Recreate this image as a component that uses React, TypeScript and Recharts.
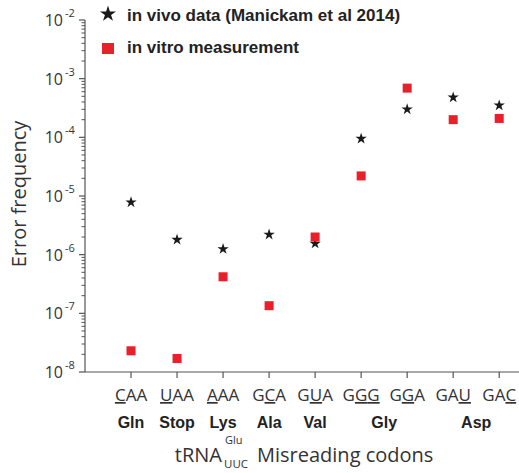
import { ScatterChart, Scatter, XAxis, YAxis, Symbols } from "recharts";

// misreading codons, underlined position = mismatched base
const codons = ["CAA", "UAA", "AAA", "GCA", "GUA", "GGG", "GGA", "GAU", "GAC"];
const underlined = [[0], [0], [0], [1], [1], [1, 2], [1], [2], [2]];
const aminoAcids = ["Gln", "Stop", "Lys", "Ala", "Val", "Gly", "Gly", "Asp", "Asp"];

const inVivo = [7.8e-6, 1.8e-6, 1.25e-6, 2.2e-6, 1.55e-6, 9.5e-5, 3.0e-4, 4.8e-4, 3.5e-4];
const inVitro = [2.3e-8, 1.7e-8, 4.2e-7, 1.35e-7, 2.0e-6, 2.2e-5, 6.9e-4, 2.0e-4, 2.1e-4];

const decadeExps = [-8, -7, -6, -5, -4, -3, -2];
const minorSteps = [2, 3, 4, 5, 6, 7, 8, 9];
const codonTicks = [1, 2, 3, 4, 5, 6, 6.5, 7, 8, 8.5, 9];

const RED = "#e8202a";
const AXIS = "#555";
const SANS = "'Open Sans', sans-serif";
const BOLD = "'Liberation Sans', Arial, sans-serif";

const yTicks = [
  ...decadeExps.map((e) => Math.pow(10, e)),
  ...decadeExps.slice(0, -1).flatMap((e) => minorSteps.map((m) => m * Math.pow(10, e))),
].sort((a, b) => a - b);

const vivoData = codons.map((c, i) => ({ x: i + 1, y: inVivo[i], codon: c }));
const vitroData = codons.map((c, i) => ({ x: i + 1, y: inVitro[i], codon: c }));

const YTick = ({ x, y, payload }: any) => {
  const v = payload.value;
  const exp = Math.round(Math.log10(v));
  const isMajor = Math.abs(v - Math.pow(10, exp)) < v * 1e-6;
  if (!isMajor) {
    return <line x1={x - 3.5} x2={x} y1={y} y2={y} stroke={AXIS} strokeWidth={1} />;
  }
  return (
    <g>
      <line x1={x - 6} x2={x} y1={y} y2={y} stroke={AXIS} strokeWidth={1.2} />
      <text x={x - 22} y={y + 6} textAnchor="end" fontSize={16} fontFamily={SANS} fill="#333">10</text>
      <text x={x - 20} y={y - 3} textAnchor="start" fontSize={11} fontFamily={SANS} fill="#333">{`-${Math.abs(exp)}`}</text>
    </g>
  );
};

const XTick = ({ x, y, payload }: any) => {
  const v = payload.value;
  const isInt = Number.isInteger(v);
  const idx = Math.floor(v) - 1;
  const aa = aminoAcids[idx];
  const shared = aminoAcids[idx - 1] === aa || aminoAcids[idx + 1] === aa;
  const aaLabel = (
    <text x={x} y={y + 56} textAnchor="middle" fontSize={16} fontWeight="bold" fontFamily={BOLD} fill="#222">{aa}</text>
  );
  if (!isInt) return aaLabel;
  return (
    <g>
      <line x1={x} x2={x} y1={y} y2={y + 6} stroke={AXIS} strokeWidth={1.2} />
      <text x={x} y={y + 29} textAnchor="middle" fontSize={17} fontFamily={SANS} fill="#333">
        {codons[idx].split("").map((ch, i) => (
          <tspan key={i} style={underlined[idx].includes(i) ? { textDecoration: "underline" } : undefined}>{ch}</tspan>
        ))}
      </text>
      {!shared && aaLabel}
    </g>
  );
};

const StarShape = ({ cx, cy }: any) => <Symbols cx={cx} cy={cy} type="star" size={40} fill="#1a1a1a" />;
const SquareShape = ({ cx, cy }: any) => <rect x={cx - 4.5} y={cy - 4.5} width={9} height={9} fill={RED} />;

export default function App() {
  return (
    <div style={{ position: "relative", width: 519, height: 473, background: "#fff" }}>
      <style>{`body{margin:0}`}</style>
      <ScatterChart width={519} height={473} margin={{ top: 20, right: 0, bottom: 0, left: 0 }}>
        <XAxis
          type="number"
          dataKey="x"
          domain={[0, 9.43]}
          ticks={codonTicks}
          interval={0}
          allowDataOverflow
          height={101}
          tickLine={false}
          tickSize={0}
          tickMargin={0}
          axisLine={{ stroke: AXIS, strokeWidth: 1.2 }}
          tick={<XTick />}
        />
        <YAxis
          type="number"
          dataKey="y"
          scale="log"
          domain={[1e-8, 1e-2]}
          ticks={yTicks}
          interval={0}
          allowDataOverflow
          width={85}
          tickLine={false}
          tickSize={0}
          tickMargin={0}
          axisLine={{ stroke: AXIS, strokeWidth: 1.2 }}
          tick={<YTick />}
        />
        <Scatter name="in vivo data (Manickam et al 2014)" data={vivoData} shape={<StarShape />} isAnimationActive={false} />
        <Scatter name="in vitro measurement" data={vitroData} shape={<SquareShape />} isAnimationActive={false} />
      </ScatterChart>
      <svg width={519} height={473} style={{ position: "absolute", left: 0, top: 0, pointerEvents: "none" }}>
        {/* legend */}
        <Symbols cx={108} cy={14} type="star" size={80} fill="#1a1a1a" />
        <text x={127} y={21} fontSize={17} fontWeight="bold" fontFamily={BOLD} fill="#222">in vivo data (Manickam et al 2014)</text>
        <rect x={102} y={43} width={12} height={11} fill={RED} />
        <text x={127} y={53} fontSize={17} fontWeight="bold" fontFamily={BOLD} fill="#222">in vitro measurement</text>
        {/* axis titles */}
        <text transform="translate(26,194) rotate(-90)" textAnchor="middle" fontSize={20} fontFamily={SANS} fill="#333">Error frequency</text>
        <text x={222} y={462} textAnchor="end" fontSize={20} fontFamily={SANS} fill="#333">tRNA</text>
        <text x={225} y={444} fontSize={11} fontFamily={SANS} fill="#333">Glu</text>
        <text x={224} y={468} fontSize={11.5} fontFamily={SANS} fill="#333">UUC</text>
        <text x={257} y={462} fontSize={20} fontFamily={SANS} fill="#333">Misreading codons</text>
      </svg>
    </div>
  );
}
